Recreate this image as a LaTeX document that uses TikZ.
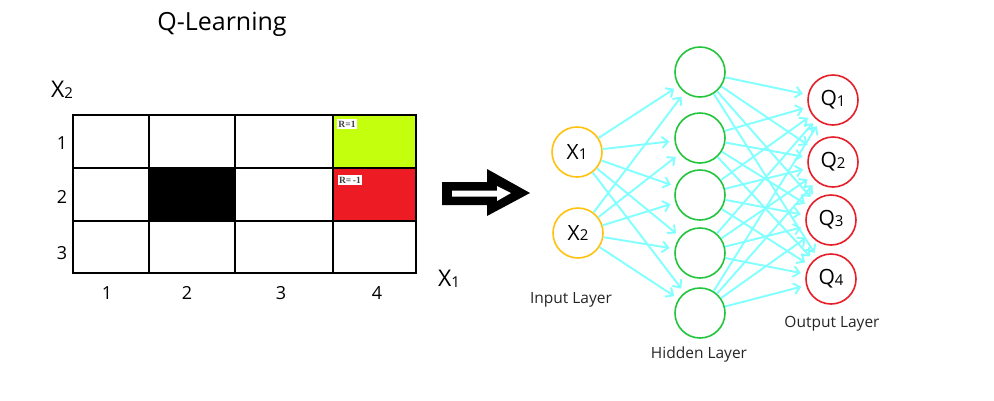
\documentclass[tikz,border=0pt]{standalone}
\usepackage{fontspec}
\setmainfont{Open Sans}
\newfontfamily\rewardfont{Liberation Serif}
\usetikzlibrary{arrows.meta}
\definecolor{goalgreen}{RGB}{196,255,14}
\definecolor{pitred}{RGB}{237,28,36}
\definecolor{inorange}{RGB}{255,194,14}
\definecolor{hidgreen}{RGB}{34,197,60}
\definecolor{outred}{RGB}{230,30,40}
\definecolor{wirecyan}{RGB}{130,255,255}
\tikzset{
  gridline/.style={line width=2.6pt,line cap=rect},
  axisnum/.style={font=\fontsize{18}{18}\selectfont},
  reward/.style={fill=white,inner sep=1.6pt,font=\rewardfont\bfseries\fontsize{9.5}{9.5}\selectfont,text=black!75},
  neuron/.style={circle,minimum size=50pt,inner sep=0pt,line width=1.6pt,fill=white,font=\fontsize{21}{21}\selectfont},
  innode/.style={neuron,draw=inorange},
  hidnode/.style={neuron,draw=hidgreen},
  outnode/.style={neuron,draw=outred},
  wire/.style={draw=wirecyan,line width=1.9pt,-{Straight Barb[length=6pt,width=11pt]},shorten >=5pt},
  layerlabel/.style={font=\fontsize{15.5}{15.5}\selectfont,text=black!85}
}
\newcommand{\sublabel}[2]{#1\raisebox{-0.5pt}{\fontsize{15}{15}\selectfont #2}}
\begin{document}
\begin{tikzpicture}[x=1pt,y=-1pt]
\useasboundingbox (0,0) rectangle (994,400);
\fill[white] (0,0) rectangle (994,400);

% title
\node[font=\fontsize{25}{25}\selectfont] (title) at (222,24) {Q-Learning};

% grid world cells
\fill[goalgreen] (333,115) rectangle (416,168);
\fill[pitred] (333,168) rectangle (416,221);
\fill[black] (149,168) rectangle (235,221);
\draw[gridline] (73,115) rectangle (416,273);
\foreach \x in {149,235,333} \draw[gridline] (\x,115) -- (\x,273);
\foreach \y in {168,221} \draw[gridline] (73,\y) -- (416,\y);

\node[reward] (r1) at (347,124) {R=1};
\node[reward] (r2) at (350,180) {R=\,-1};

% axis numbering
\node[axisnum] (row1) at (62,143) {1};
\node[axisnum] (row2) at (62,197) {2};
\node[axisnum] (row3) at (62,253) {3};
\node[axisnum] (col1) at (107,293) {1};
\node[axisnum] (col2) at (187,293) {2};
\node[axisnum] (col3) at (281,293) {3};
\node[axisnum] (col4) at (377,293) {4};
\node[font=\fontsize{23}{23}\selectfont] (xtwo) at (62,90) {\sublabel{X}{2}};
\node[font=\fontsize{23}{23}\selectfont] (xone) at (449,279) {\sublabel{X}{1}};

% block arrow between the two halves
\fill[black] (442,182) -- (487,182) -- (487,169) -- (530,193) -- (487,216) -- (487,205) -- (442,205) -- cycle;
\fill[white] (452,190.5) -- (497,190.5) -- (497,186) -- (511,193) -- (497,201) -- (497,196.5) -- (452,196.5) -- cycle;

% network
\node[innode] (i1) at (577,152) {\sublabel{X}{1}};
\node[innode] (i2) at (578,233) {\sublabel{X}{2}};
\foreach \n/\y in {1/72,2/138,3/195,4/253,5/313}
  \node[hidnode] (h\n) at (700,\y) {};
\node[outnode] (o1) at (833,100) {\sublabel{Q}{1}};
\node[outnode] (o2) at (833,162) {\sublabel{Q}{2}};
\node[outnode] (o3) at (831,220) {\sublabel{Q}{3}};
\node[outnode] (o4) at (831,279) {\sublabel{Q}{4}};

\foreach \i in {1,2}
  \foreach \h in {1,...,5}
    \draw[wire] (i\i) -- (h\h);
\foreach \h in {1,...,5}
  \foreach \o in {1,...,4}
    \draw[wire] (h\h) -- (o\o);

\node[layerlabel] (inlab) at (571,300) {Input Layer};
\node[layerlabel] (hidlab) at (699,354) {Hidden Layer};
\node[layerlabel] (outlab) at (832,324) {Output Layer};
\end{tikzpicture}
\end{document}
